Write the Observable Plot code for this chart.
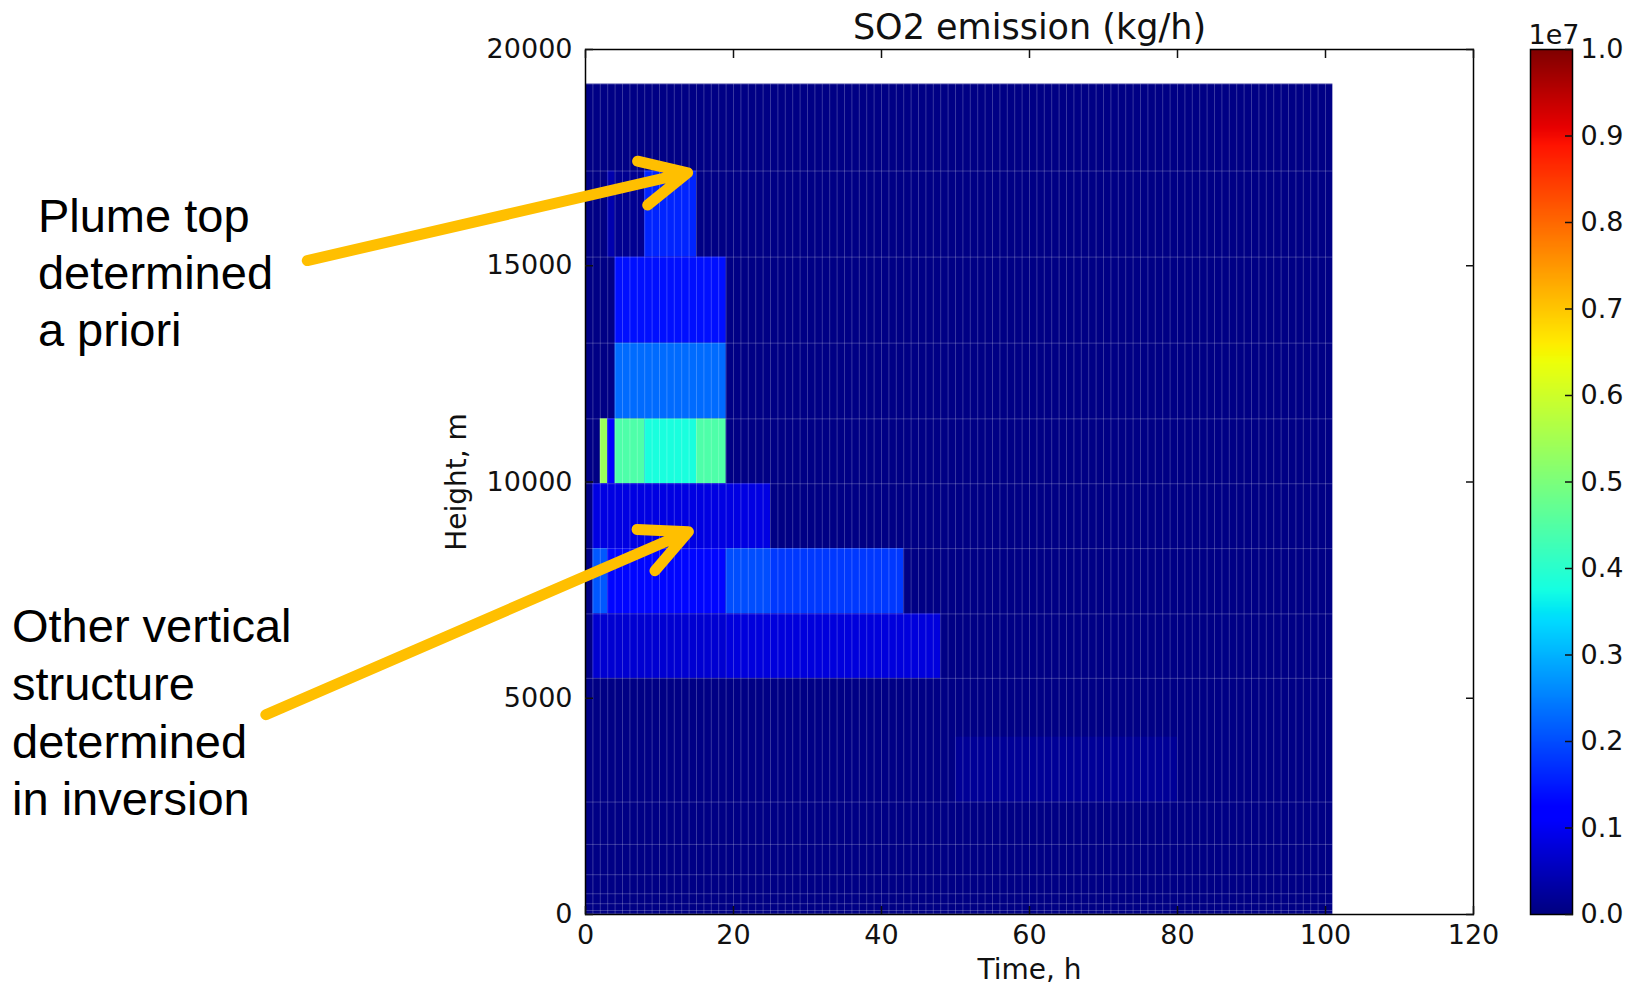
<!DOCTYPE html>
<html>
<head>
<meta charset="utf-8">
<script src="https://cdn.jsdelivr.net/npm/d3@7"></script>
<script src="https://cdn.jsdelivr.net/npm/@observablehq/plot@0.6"></script>
<style>
  body { margin: 0; background: #fff; }
  #wrap { position: relative; width: 1632px; height: 984px; overflow: hidden; }
  #wrap svg { position: absolute; top: 0; }
</style>
</head>
<body>
<div id="wrap"></div>
<script>
// ---------- data ----------
const xTicks = [0, 20, 40, 60, 80, 100, 120];
const yTicks = [0, 5000, 10000, 15000, 20000];
const colorTicks = [0, 1e6, 2e6, 3e6, 4e6, 5e6, 6e6, 7e6, 8e6, 9e6, 1e7];

// hourly time cell edges (h)
const timeEdges = [0,1,2,3,4,5,6,7,8,9,10,11,12,13,14,15,16,17,18,19,20,21,22,23,24,25,26,27,28,29,30,
  31,32,33,34,35,36,37,38,39,40,41,42,43,44,45,46,47,48,49,50,51,52,53,54,55,56,57,58,59,60,
  61,62,63,64,65,66,67,68,69,70,71,72,73,74,75,76,77,78,79,80,81,82,83,84,85,86,87,88,89,90,
  91,92,93,94,95,96,97,98,99,100,101];
// vertical layer edges (m)
const layerEdges = [0, 25, 92, 250, 480, 920, 1620, 2600, 5460, 6950, 8460, 9960, 11460, 13210, 15200, 17190, 19200];

// emission blocks: [time start, time end, height bottom, height top, kg/h]
const blocks = [
  [0, 101, 0, 19200, 0.05e6],         // background level
  [3, 4, 15200, 17190, 0.4e6],
  [4, 8, 15200, 17190, 0.15e6],
  [8, 15, 15200, 17190, 1.6e6],
  [4, 19, 13210, 15200, 1.4e6],
  [4, 19, 11460, 13210, 2.3e6],
  [2, 3, 9960, 11460, 5.4e6],
  [3, 4, 9960, 11460, 1.2e6],
  [4, 8, 9960, 11460, 4.45e6],
  [8, 15, 9960, 11460, 3.8e6],
  [15, 19, 9960, 11460, 4.45e6],
  [1, 25, 8460, 9960, 0.85e6],
  [1, 3, 6950, 8460, 2.1e6],
  [3, 19, 6950, 8460, 1.3e6],
  [19, 25, 6950, 8460, 2.0e6],
  [25, 43, 6950, 8460, 1.8e6],
  [1, 19, 5460, 6950, 0.7e6],
  [19, 48, 5460, 6950, 0.8e6],
  [50, 80, 2600, 4100, 0.2e6]
];

// annotations (data coordinates)
const arrows = [
  {t1: -37.6, h1: 15120, t2: 13.8, h2: 17150},
  {t1: -43.2, h1: 4620, t2: 13.9, h2: 8850}
];
const noteLines = [
  {text: "Plume top", t: -74.0, h: 15790},
  {text: "determined", t: -74.0, h: 14470},
  {text: "a priori", t: -74.0, h: 13150},
  {text: "Other vertical", t: -77.5, h: 6310},
  {text: "structure", t: -77.5, h: 4970},
  {text: "determined", t: -77.5, h: 3630},
  {text: "in inversion", t: -77.5, h: 2290}
];

// ---------- jet colormap ----------
function piece(t, pts) {
  for (let i = 1; i < pts.length; i++) {
    if (t <= pts[i][0]) {
      const [a, va] = pts[i - 1], [b, vb] = pts[i];
      return va + (vb - va) * (t - a) / (b - a);
    }
  }
  return pts[pts.length - 1][1];
}
function jet(t) {
  t = Math.max(0, Math.min(1, t));
  const r = piece(t, [[0, 0], [0.35, 0], [0.66, 1], [0.89, 1], [1, 0.5]]);
  const g = piece(t, [[0, 0], [0.125, 0], [0.375, 1], [0.64, 1], [0.91, 0], [1, 0]]);
  const b = piece(t, [[0, 0.5], [0.11, 1], [0.34, 1], [0.65, 0], [1, 0]]);
  return `rgb(${Math.round(r * 255)},${Math.round(g * 255)},${Math.round(b * 255)})`;
}

const baseStyle = {
  fontFamily: "'DejaVu Sans', sans-serif",
  fontSize: "27px",
  color: "#111",
  background: "transparent",
  overflow: "visible"
};
const plain = d => String(d);

// ---------- main chart ----------
const main = Plot.plot({
  width: 1632, height: 984,
  marginLeft: 585, marginRight: 159, marginTop: 49, marginBottom: 70,
  style: baseStyle,
  x: {domain: [0, 120]},
  y: {domain: [0, 20000]},
  color: {type: "linear", domain: [0, 1e7], interpolate: jet, clamp: true},
  marks: [
    Plot.rect(blocks, {x1: d => d[0], x2: d => d[1], y1: d => d[2], y2: d => d[3], fill: d => d[4]}),
    Plot.ruleY(layerEdges, {x1: 0, x2: 101, stroke: "white", strokeOpacity: 0.22, strokeWidth: 1}),
    Plot.ruleX(timeEdges, {y1: 0, y2: 19200, stroke: "white", strokeOpacity: 0.22, strokeWidth: 1}),
    Plot.frame({stroke: "black", strokeWidth: 1.5}),
    Plot.axisX({anchor: "bottom", ticks: xTicks, tickSize: -8, tickPadding: 18, tickFormat: plain, label: null, strokeWidth: 1.5}),
    Plot.axisX({anchor: "top", ticks: xTicks, tickSize: -8, tickFormat: () => "", label: null, strokeWidth: 1.5}),
    Plot.axisY({anchor: "left", ticks: yTicks, tickSize: -8, tickPadding: 21, tickFormat: plain, label: null, strokeWidth: 1.5}),
    Plot.axisY({anchor: "right", ticks: yTicks, tickSize: -8, tickFormat: () => "", label: null, strokeWidth: 1.5}),
    Plot.text(["SO2 emission (kg/h)"], {frameAnchor: "top", dy: -11, lineAnchor: "bottom", fontSize: 35}),
    Plot.text(["Time, h"], {frameAnchor: "bottom", dy: 64, lineAnchor: "bottom", fontSize: 28}),
    Plot.text(["Height, m"], {frameAnchor: "left", dx: -120, rotate: -90, textAnchor: "middle", lineAnchor: "bottom", fontSize: 28}),
    Plot.arrow(arrows, {
      x1: "t1", y1: "h1", x2: "t2", y2: "h2",
      stroke: "#ffbf00", strokeWidth: 11, headAngle: 52, headLength: 7,
      strokeLinecap: "round", strokeLinejoin: "round"
    }),
    Plot.text(noteLines, {
      x: "t", y: "h", text: "text", textAnchor: "start", lineAnchor: "bottom",
      fontSize: 47, fontFamily: "'Liberation Sans', Arial, sans-serif", fill: "black"
    })
  ]
});
main.style.left = "0px";

// ---------- colorbar ----------
const cbar = Plot.plot({
  width: 152, height: 984,
  marginLeft: 50, marginRight: 60, marginTop: 49, marginBottom: 70,
  style: baseStyle,
  x: {domain: [0, 1], axis: null},
  y: {domain: [0, 1e7], axis: null},
  color: {type: "linear", domain: [0, 1e7], interpolate: jet, clamp: true},
  marks: [
    Plot.raster({x1: 0, x2: 1, y1: 0, y2: 1e7, width: 1, height: 500, fill: (x, y) => y}),
    Plot.frame({stroke: "black", strokeWidth: 1.5}),
    Plot.axisY({anchor: "right", ticks: colorTicks, tickSize: -8, tickPadding: 16,
      tickFormat: d => (d / 1e7).toFixed(1), label: null, strokeWidth: 1.5}),
    Plot.text(["1e7"], {frameAnchor: "top-left", dx: -2, dy: -6, textAnchor: "start", lineAnchor: "bottom", fontSize: 27})
  ]
});
cbar.style.left = "1480px";

const wrap = document.getElementById("wrap");
wrap.appendChild(main);
wrap.appendChild(cbar);
</script>
</body>
</html>
